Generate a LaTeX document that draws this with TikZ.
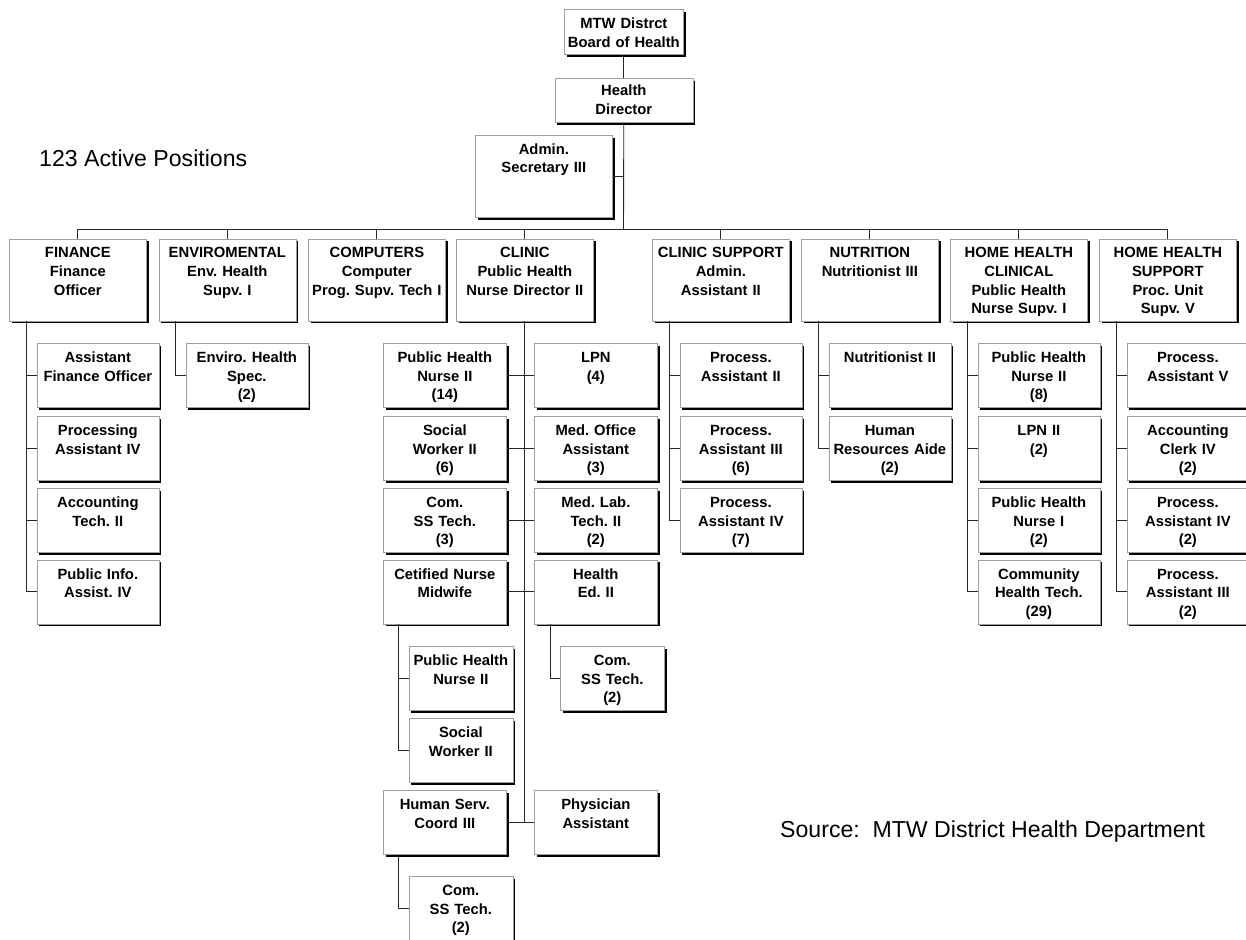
\documentclass[tikz,border=0pt]{standalone}
\usepackage{fontspec}
\setmainfont{Liberation Sans}
\usepackage{tikz}
\usetikzlibrary{shadows}
\frenchspacing

\tikzset{
  post/.style={rectangle, draw=gray!75, line width=0.7pt, fill=white, inner sep=0pt, anchor=north west, align=center,
    font=\bfseries\fontsize{14.8}{18.6}\selectfont,
    general shadow={fill=black, shadow xshift=2.5pt, shadow yshift=-2.5pt}},
  headbox/.style={post},
  deptbox/.style={post, text width=137pt, text height=19pt, text depth=63pt},
  staffbox/.style={post, text width=122pt, text height=19.4pt, text depth=44.6pt},
  subbox/.style={post, text width=104pt, text height=19.4pt, text depth=44.6pt},
  link/.style={draw=black!85, line width=0.9pt},
  note/.style={anchor=base west, inner sep=0pt, font=\fontsize{23.1}{27}\selectfont}
}

\begin{document}
\begin{tikzpicture}[x=1pt, y=-1pt]
\useasboundingbox (0,0) rectangle (1246,939);
\clip (0,0) rectangle (1246,939);

% top of the chart
\node[headbox, text width=119pt, text height=19.4pt, text depth=25.6pt] (board) at (564,9) {MTW Distrct\\Board of Health};
\node[headbox, text width=138pt, text height=17.6pt, text depth=26.4pt] (director) at (554.5,78) {Health\\Director};
\node[deptbox] (admin) at (475,135) {Admin.\\Secretary III};
\coordinate (bus) at (623.5,229);

\node[note] (count) at (39,166) {123 Active Positions};
\node[note] (source) at (780,837) {Source:\ \ MTW District Health Department};

% departments
\node[deptbox] (finance) at (9,238.5) {FINANCE\\Finance\\Officer};
\node[deptbox] (enviro) at (158.5,238.5) {ENVIROMENTAL\\Env. Health\\Supv. I};
\node[deptbox] (computers) at (308,238.5) {COMPUTERS\\Computer\\Prog. Supv. Tech I};
\node[deptbox] (clinic) at (456,238.5) {CLINIC\\Public Health\\Nurse Director II};
\node[deptbox] (clinsupp) at (652,238.5) {CLINIC SUPPORT\\Admin.\\Assistant II};
\node[deptbox] (nutrition) at (801,238.5) {NUTRITION\\Nutritionist III};
\node[deptbox] (hhclin) at (950,238.5) {HOME HEALTH\\CLINICAL\\Public Health\\Nurse Supv. I};
\node[deptbox] (hhsupp) at (1099,238.5) {HOME HEALTH\\SUPPORT\\Proc. Unit\\Supv. V};

% finance and enviro staff
\node[staffbox] (finA) at (36.5,343) {Assistant\\Finance Officer};
\node[staffbox] (finB) at (36.5,416) {Processing\\Assistant IV};
\node[staffbox] (finC) at (36.5,488) {Accounting\\Tech. II};
\node[staffbox] (finD) at (36.5,559.5) {Public Info.\\Assist. IV};
\node[staffbox] (envA) at (185.5,343) {Enviro. Health\\Spec.\\(2)};

% clinic staff
\node[staffbox, text width=123pt] (clA) at (383,343) {Public Health\\Nurse II\\(14)};
\node[staffbox, text width=123pt] (clB) at (534,343) {LPN\\(4)};
\node[staffbox, text width=123pt] (clC) at (383,416) {Social\\Worker II\\(6)};
\node[staffbox, text width=123pt] (clD) at (534,416) {Med. Office\\Assistant\\(3)};
\node[staffbox, text width=123pt] (clE) at (383,488) {Com.\\SS Tech.\\(3)};
\node[staffbox, text width=123pt] (clF) at (534,488) {Med. Lab.\\Tech. II\\(2)};
\node[staffbox, text width=123pt] (clG) at (383,559.5) {Cetified Nurse\\Midwife};
\node[staffbox, text width=123pt] (clH) at (534,559.5) {Health\\Ed. II};
\node[staffbox, text width=123pt] (clI) at (383,790) {Human Serv.\\Coord III};
\node[staffbox, text width=123pt] (clJ) at (534,790) {Physician\\Assistant};
\node[subbox] (cnmA) at (408.5,646) {Public Health\\Nurse II};
\node[subbox] (cnmB) at (408.5,718) {Social\\Worker II};
\node[subbox] (hedA) at (560,646) {Com.\\SS Tech.\\(2)};
\node[subbox] (hsA) at (408.5,876) {Com.\\SS Tech.\\(2)};

% clinic support, nutrition, home health
\node[staffbox] (csA) at (679.5,343) {Process.\\Assistant II};
\node[staffbox] (csB) at (679.5,416) {Process.\\Assistant III\\(6)};
\node[staffbox] (csC) at (679.5,488) {Process.\\Assistant IV\\(7)};
\node[staffbox] (nutA) at (828.5,343) {Nutritionist II};
\node[staffbox] (nutB) at (828.5,416) {Human\\Resources Aide\\(2)};
\node[staffbox] (hcA) at (977.5,343) {Public Health\\Nurse II\\(8)};
\node[staffbox] (hcB) at (977.5,416) {LPN II\\(2)};
\node[staffbox] (hcC) at (977.5,488) {Public Health\\Nurse I\\(2)};
\node[staffbox] (hcD) at (977.5,559.5) {Community\\Health Tech.\\(29)};
\node[staffbox] (hsuA) at (1126.5,343) {Process.\\Assistant V};
\node[staffbox] (hsuB) at (1126.5,416) {Accounting\\Clerk IV\\(2)};
\node[staffbox] (hsuC) at (1126.5,488) {Process.\\Assistant IV\\(2)};
\node[staffbox] (hsuD) at (1126.5,559.5) {Process.\\Assistant III\\(2)};

% lines
\draw[link] (board) -- (director);
\draw[link] (director) -- (bus);
\draw[link] (admin.east) -- (admin.east -| bus);
\foreach \d in {finance,enviro,computers,clinic,clinsupp,nutrition,hhclin,hhsupp}
  \draw[link] (bus) -| (\d.north);

\foreach \c in {finA,finB,finC,finD}
  \draw[link] ([xshift=17pt]finance.south west) |- (\c.west);
\draw[link] ([xshift=17pt]enviro.south west) |- (envA.west);
\foreach \c in {csA,csB,csC}
  \draw[link] ([xshift=17pt]clinsupp.south west) |- (\c.west);
\foreach \c in {nutA,nutB}
  \draw[link] ([xshift=17pt]nutrition.south west) |- (\c.west);
\foreach \c in {hcA,hcB,hcC,hcD}
  \draw[link] ([xshift=17pt]hhclin.south west) |- (\c.west);
\foreach \c in {hsuA,hsuB,hsuC,hsuD}
  \draw[link] ([xshift=17pt]hhsupp.south west) |- (\c.west);

\draw[link] (clinic.south) -- (clinic.south |- clJ.west);
\foreach \l/\r in {clA/clB,clC/clD,clE/clF,clG/clH,clI/clJ}
  \draw[link] (\l.east) -- (\r.west);
\foreach \c in {cnmA,cnmB}
  \draw[link] ([xshift=15pt]clG.south west) |- (\c.west);
\draw[link] ([xshift=16pt]clH.south west) |- (hedA.west);
\draw[link] ([xshift=15pt]clI.south west) |- (hsA.west);
\end{tikzpicture}
\end{document}
